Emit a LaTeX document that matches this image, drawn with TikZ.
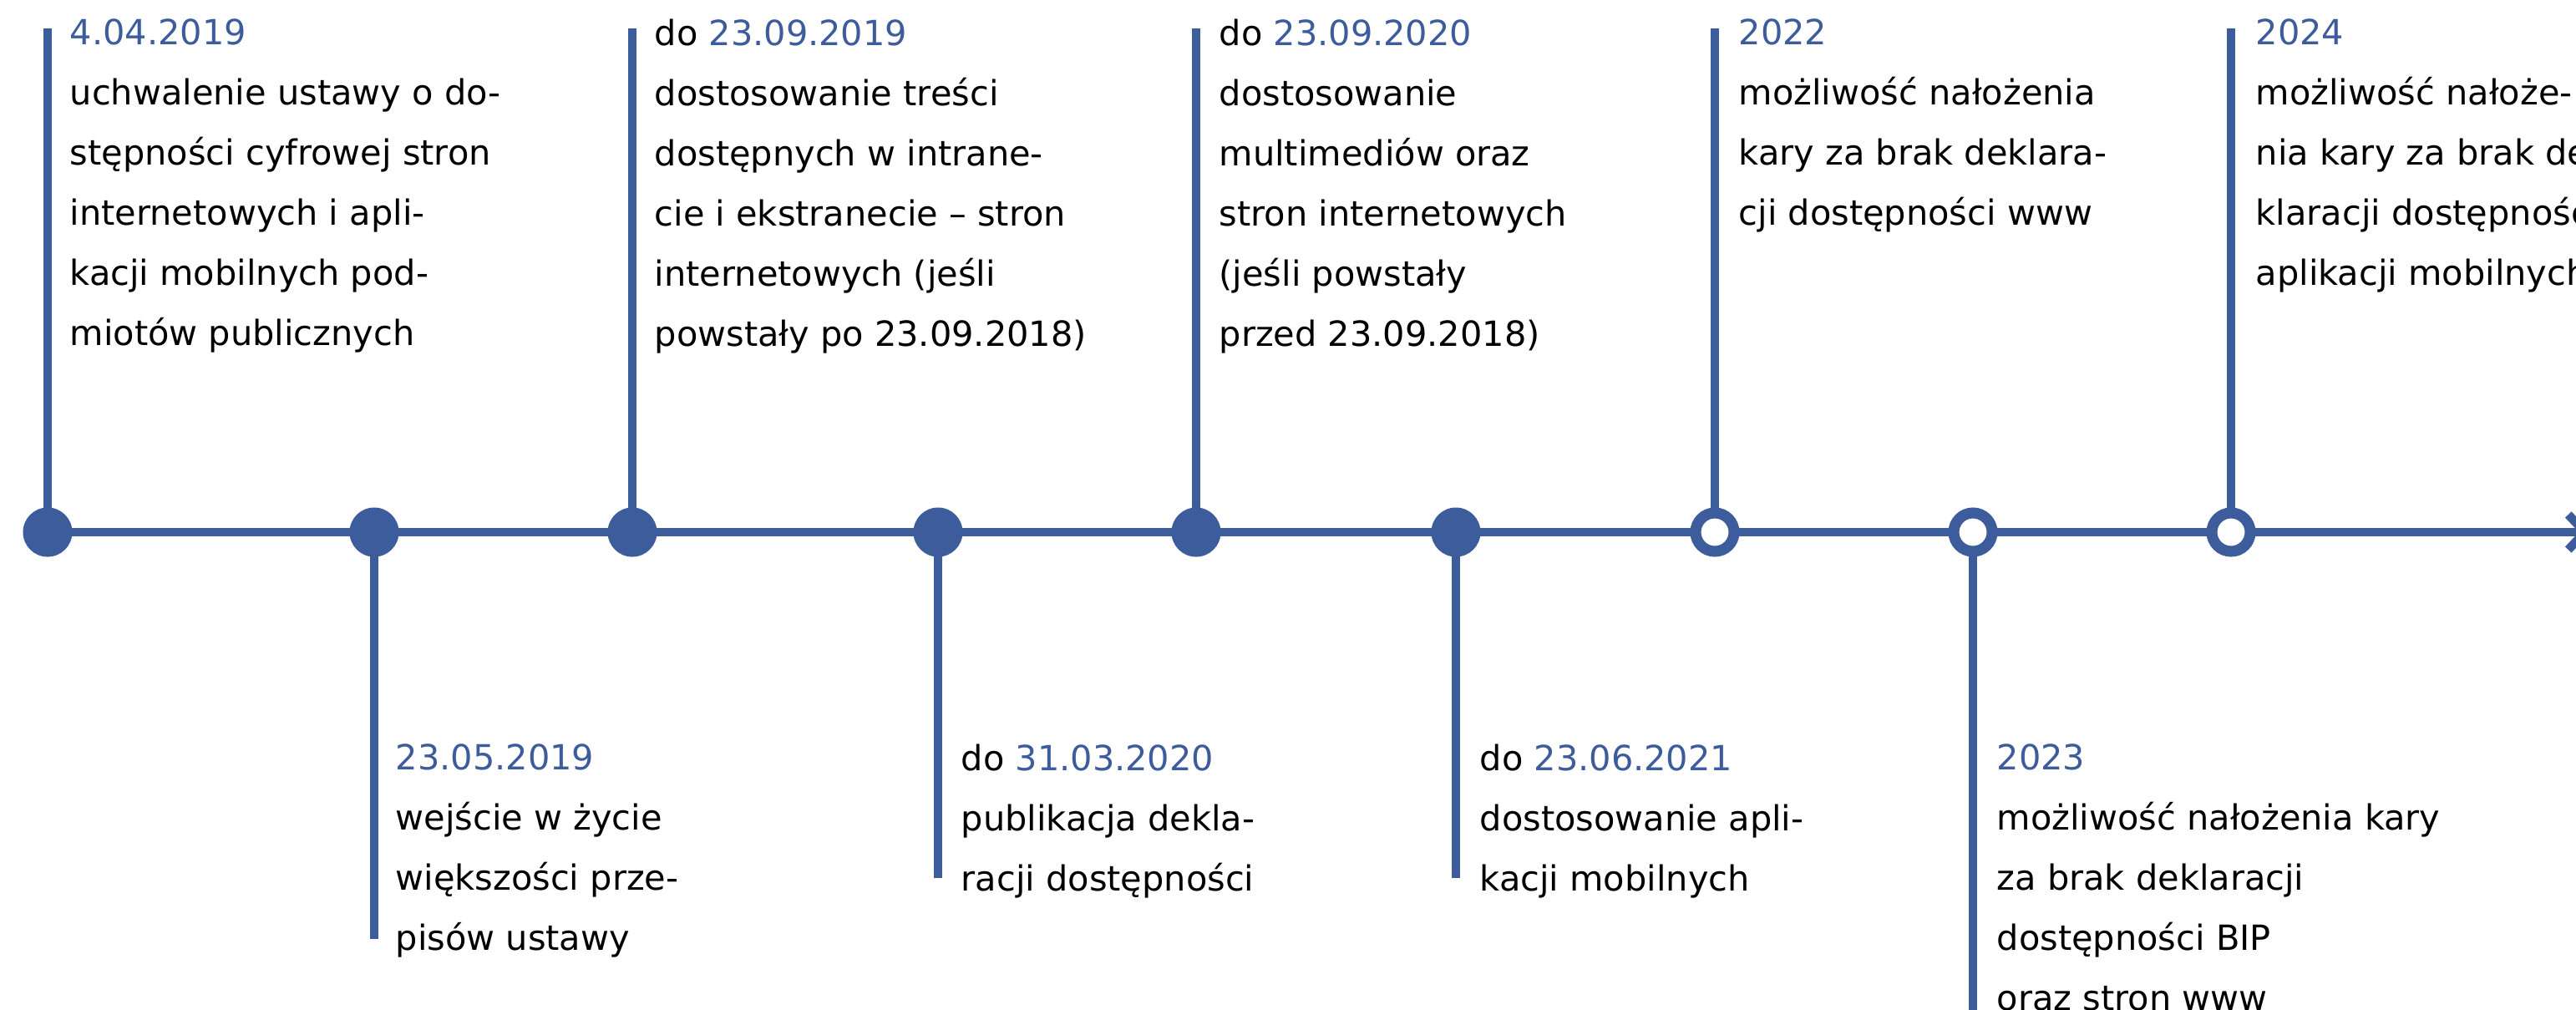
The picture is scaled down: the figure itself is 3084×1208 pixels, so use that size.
\documentclass[tikz,border=0pt]{standalone}
\usepackage{fontspec}
\setmainfont{DejaVu Sans}
\usepackage{xcolor}
\usepackage{tikz}
\usetikzlibrary{arrows.meta,backgrounds}
\definecolor{tlblue}{RGB}{60,92,156}
\newcommand{\when}[1]{\textcolor{tlblue}{#1}}

\begin{document}
\begin{tikzpicture}[x=0.01cm,y=-0.01cm,line cap=round,
  dot/.style={circle,fill=tlblue,inner sep=0pt,minimum size=0.59cm},
  ring/.style={circle,draw=tlblue,line width=0.13cm,fill=white,inner sep=0pt,minimum size=0.46cm},
  stem/.style={tlblue,line width=0.105cm},
  event/.style={anchor=north west,align=left,inner sep=0pt,
    font=\fontsize{11.8pt}{20.5pt}\selectfont}]
  \useasboundingbox (0,0) rectangle (3084,1208);
  \clip (0,0) rectangle (3084,1208);
  \foreach \n/\x in {1/57,2/448,3/757,4/1123,5/1432,6/1743}
    \node[dot] (d\n) at (\x,637) {};
  \foreach \n/\x in {7/2053,8/2362,9/2671}
    \node[ring] (d\n) at (\x,637) {};
  \foreach \n/\x in {1/57,3/757,5/1432,7/2053,9/2671}
    \coordinate (e\n) at (\x,34);
  \foreach \n/\x/\y in {2/448/1124,4/1123/1051,6/1743/1051,8/2362/1240}
    \coordinate (e\n) at (\x,\y);
  \coordinate (tip) at (3102,637);
  \begin{scope}[on background layer]
    \draw[stem,-{Straight Barb[length=0.2cm,width=0.42cm]}] (d1.center) -- (tip);
    \foreach \n in {1,...,9}
      \draw[stem] (d\n.center) -- (e\n);
  \end{scope}
  \node[event] (t1) at (83,22) {\when{4.04.2019}\\uchwalenie ustawy o do-\\
    stępności cyfrowej stron\\internetowych i apli-\\kacji mobilnych pod-\\
    miotów publicznych};
  \node[event] (t2) at (473,890) {\when{23.05.2019}\\wejście w życie\\
    większości prze-\\pisów ustawy};
  \node[event] (t3) at (783,22) {do \when{23.09.2019}\\dostosowanie treści\\
    dostępnych w intrane-\\cie i ekstranecie – stron\\internetowych (jeśli\\
    powstały po 23.09.2018)};
  \node[event] (t4) at (1150,890) {do \when{31.03.2020}\\publikacja dekla-\\
    racji dostępności};
  \node[event] (t5) at (1459,22) {do \when{23.09.2020}\\dostosowanie\\
    multimediów oraz\\stron internetowych\\(jeśli powstały\\przed 23.09.2018)};
  \node[event] (t6) at (1771,890) {do \when{23.06.2021}\\dostosowanie apli-\\
    kacji mobilnych};
  \node[event] (t7) at (2081,22) {\when{2022}\\możliwość nałożenia\\
    kary za brak deklara-\\cji dostępności www};
  \node[event] (t8) at (2390,890) {\when{2023}\\możliwość nałożenia kary\\
    za brak deklaracji\\dostępności BIP\\oraz stron www};
  \node[event] (t9) at (2700,22) {\when{2024}\\możliwość nałoże-\\
    nia kary za brak de-\\klaracji dostępności\\aplikacji mobilnych};
\end{tikzpicture}
\end{document}
